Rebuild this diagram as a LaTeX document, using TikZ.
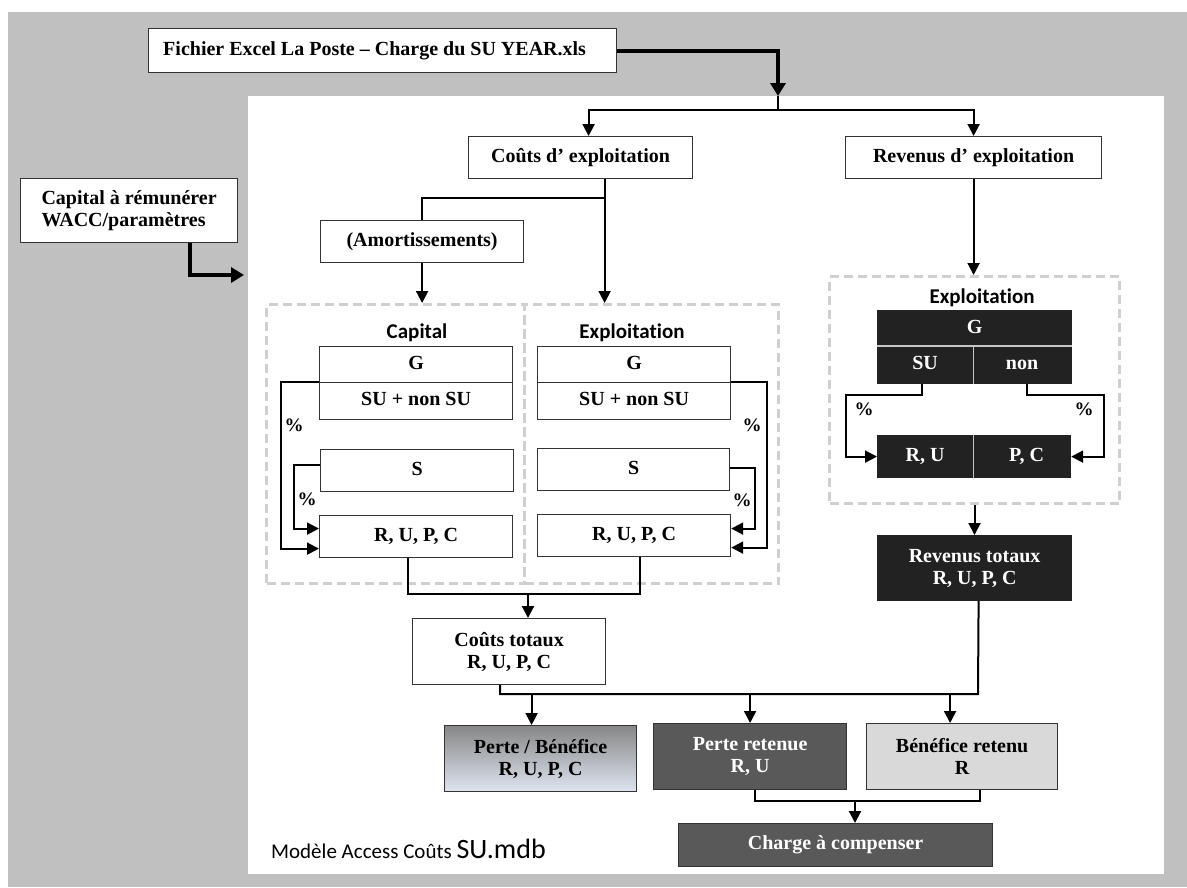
\documentclass[tikz,border=0pt]{standalone}
\usepackage{fontspec}
\setmainfont{Liberation Serif}
\newfontfamily\calfont[Ligatures=NoCommon]{Carlito}
\usetikzlibrary{shapes,arrows.meta,positioning,fit,calc}

\definecolor{bggray}{RGB}{192,192,192}
\definecolor{boxline}{RGB}{51,51,51}
\definecolor{dashgray}{RGB}{208,208,208}
\definecolor{darkfill}{RGB}{34,34,34}
\definecolor{midfill}{RGB}{89,89,89}
\definecolor{lightfill}{RGB}{217,217,217}
\definecolor{pbtop}{RGB}{135,135,135}
\definecolor{pbmid}{RGB}{212,218,228}
\definecolor{pbbot}{RGB}{222,229,240}

\newcommand{\bxfont}{\fontsize{20}{22}\selectfont\bfseries}

\begin{document}
\begin{tikzpicture}[
    x=1pt, y=-1pt,
    box/.style={
      draw=boxline, line width=1.2pt, fill=white,
      font=\bxfont, align=center, inner sep=0pt, anchor=north west
    },
    darkbox/.style={box, draw=darkfill, fill=darkfill, text=white},
    oneline/.style={text height=13pt, text depth=4pt},
    group/.style={
      draw=dashgray, line width=3pt, dash pattern=on 9pt off 5pt,
      inner sep=0pt, anchor=north west
    },
    grouplabel/.style={font=\calfont\fontsize{21}{24}\selectfont\bfseries},
    pct/.style={font=\fontsize{19}{20}\selectfont\bfseries, inner sep=0pt},
    conn/.style={draw, line width=2pt},
    arr/.style={conn, -{Triangle[length=12pt,width=12pt]}},
    bigarr/.style={draw, line width=4pt, -{Triangle[length=13pt,width=15pt]}},
    divline/.style={draw=gray!45, line width=1.2pt}
  ]
  \useasboundingbox (0,0) rectangle (1187,887);
  % background and model panel
  \fill[bggray] (8,12) rectangle (1187,887);
  \node[fill=white, inner sep=0pt, anchor=north west, minimum width=916pt, minimum height=778pt] (panel) at (248,96) {};

  % sources
  \node[box, minimum width=468pt, minimum height=44pt] (fichier) at (148,28) {Fichier Excel La Poste -- Charge du SU YEAR.xls\hspace{16pt}};
  \node[box, minimum width=217pt, minimum height=64pt, align=left] (caprem) at (20,178) {Capital à rémunérer\\WACC/paramètres};

  % first level
  \node[box, minimum width=224pt, minimum height=42pt] (couts) at (468,136) {Coûts d’ exploitation};
  \node[box, minimum width=256pt, minimum height=42pt] (revexp) at (845,136) {Revenus d’ exploitation};
  \node[box, minimum width=203pt, minimum height=42pt] (amort) at (320,220) {(Amortissements)};

  % cost groups
  \node[group, minimum width=258pt, minimum height=279pt] (capgrp) at (265,303) {};
  \node[group, minimum width=254pt, minimum height=279pt] (expgrp) at (523,303) {};
  \node[grouplabel] (caplbl) at (417,333) {Capital};
  \node[grouplabel] (explbl) at (632,333) {Exploitation};

  \node[box, oneline, minimum width=193pt, minimum height=36pt] (gA) at (319,346) {G};
  \node[box, oneline, minimum width=193pt, minimum height=37pt] (suA) at (319,382) {SU + non SU};
  \node[box, oneline, minimum width=193pt, minimum height=42pt] (sA) at (320,449) {S};
  \node[box, oneline, minimum width=193pt, minimum height=42pt] (rA) at (319,515) {R, U, P, C};

  \node[box, oneline, minimum width=193pt, minimum height=36pt] (gB) at (537,346) {G};
  \node[box, oneline, minimum width=193pt, minimum height=37pt] (suB) at (537,382) {SU + non SU};
  \node[box, oneline, minimum width=192pt, minimum height=42pt] (sB) at (537,448) {S};
  \node[box, oneline, minimum width=193pt, minimum height=42pt] (rB) at (537,514) {R, U, P, C};

  % revenue group
  \node[group, minimum width=290pt, minimum height=227pt] (revgrp) at (828,275) {};
  \node[grouplabel] (revlbl) at (982,298) {Exploitation};
  \node[darkbox, oneline, minimum width=194pt, minimum height=36pt] (rg) at (877,310) {G};
  \node[darkbox, oneline, minimum width=95pt, minimum height=37pt] (su) at (877,346) {SU};
  \node[darkbox, oneline, minimum width=99pt, minimum height=37pt] (non) at (972,346) {non};
  \node[darkbox, oneline, minimum width=95pt, minimum height=42pt] (ru) at (877,435) {R, U};
  \node[darkbox, oneline, minimum width=98pt, minimum height=42pt] (pc) at (972,435) {\hspace{10pt}P, C};
  \draw[divline] (su.north west) -- (non.north east);
  \draw[divline] (su.north east) -- (su.south east);
  \draw[divline] (ru.north east) -- (ru.south east);

  % totals and results
  \node[box, minimum width=193pt, minimum height=66pt] (total) at (412,618) {Coûts totaux\\R, U, P, C};
  \node[darkbox, minimum width=194pt, minimum height=65pt] (revtot) at (877,535) {Revenus totaux\\R, U, P, C};
  \node[box, minimum width=192pt, minimum height=66pt, top color=pbtop, middle color=pbmid, bottom color=pbbot] (pb) at (444,725) {Perte / Bénéfice\\R, U, P, C};
  \node[box, draw=boxline, fill=midfill, text=white, minimum width=193pt, minimum height=66pt] (pr) at (653,723) {Perte retenue\\R, U};
  \node[box, fill=lightfill, minimum width=191pt, minimum height=66pt] (br) at (866,723) {Bénéfice retenu\\R};
  \node[box, oneline, fill=midfill, text=white, minimum width=314pt, minimum height=43pt] (charge) at (678,823) {Charge à compenser};
  \node[anchor=base west, inner sep=0pt] (modlbl) at (271,858) {\calfont\fontsize{21}{24}\selectfont Modèle Access Coûts \fontsize{28}{30}\selectfont SU.mdb};

  % connectors
  \coordinate (split) at (778,110);
  \coordinate (capin) at (244,275);
  \coordinate (br0) at (604,198);
  \coordinate (jc) at (528,594);
  \coordinate (bus) at (978,694);
  \coordinate (jk) at (855,801);

  \draw[bigarr] (fichier.east) -| (split |- panel.north);
  \draw[conn] (split |- panel.north) -- (split);
  \draw[arr] (split) -| ([xshift=8]couts.north);
  \draw[arr] (split) -| (revexp.north);
  \draw[bigarr] ([xshift=61]caprem.south) |- (capin);

  \draw[arr] ([xshift=24]couts.south) -- ([xshift=24]couts.south |- expgrp.north);
  \draw[conn] (br0) -| (amort.north);
  \draw[arr] (amort.south) -- (amort.south |- capgrp.north);

  \draw[arr] (suA.north west) -- ++(-38,0) |- ([yshift=-12]rA.west);
  \draw[arr] ([yshift=6]sA.west) -- ++(-26,0) |- ([yshift=8]rA.west);
  \draw[arr] (suB.north east) -- ++(36,0) |- ([yshift=-12]rB.east);
  \draw[arr] ([yshift=2]sB.east) -- ++(25,0) |- ([yshift=7]rB.east);
  \node[pct] (pcA1) at (294,425) {\%};
  \node[pct] (pcA2) at (307,499) {\%};
  \node[pct] (pcB1) at (752,425) {\%};
  \node[pct] (pcB2) at (742,500) {\%};

  \draw[conn] ([xshift=-8]rA.south) |- (jc) -| ([xshift=6]rB.south);
  \draw[arr] (jc) -- (jc |- total.north);

  \draw[arr] (revexp.south) -- (revexp.south |- revgrp.north);
  \draw[arr] ([xshift=-3]su.south) -- ++(0,11) -| ([xshift=-31]ru.west) -- (ru.west);
  \draw[arr] ([xshift=5]non.south) -- ++(0,11) -| ([xshift=33]pc.east) -- (pc.east);
  \node[pct] (pcC1) at (864,409) {\%};
  \node[pct] (pcC2) at (1084,409) {\%};
  \draw[arr] (revgrp.south) -- (revgrp.south |- revtot.north);

  \draw[conn] ([xshift=-9]total.south) |- (bus) -- ([xshift=4]revtot.south);
  \draw[arr] ([xshift=-9]pb.north |- bus) -- ([xshift=-9]pb.north);
  \draw[arr] (pr.north |- bus) -- (pr.north);
  \draw[arr] ([xshift=-12]br.north |- bus) -- ([xshift=-12]br.north);

  \draw[conn] ([xshift=5]pr.south) |- (jk) -| ([xshift=18]br.south);
  \draw[arr] (jk) -- (jk |- charge.north);
\end{tikzpicture}
\end{document}
